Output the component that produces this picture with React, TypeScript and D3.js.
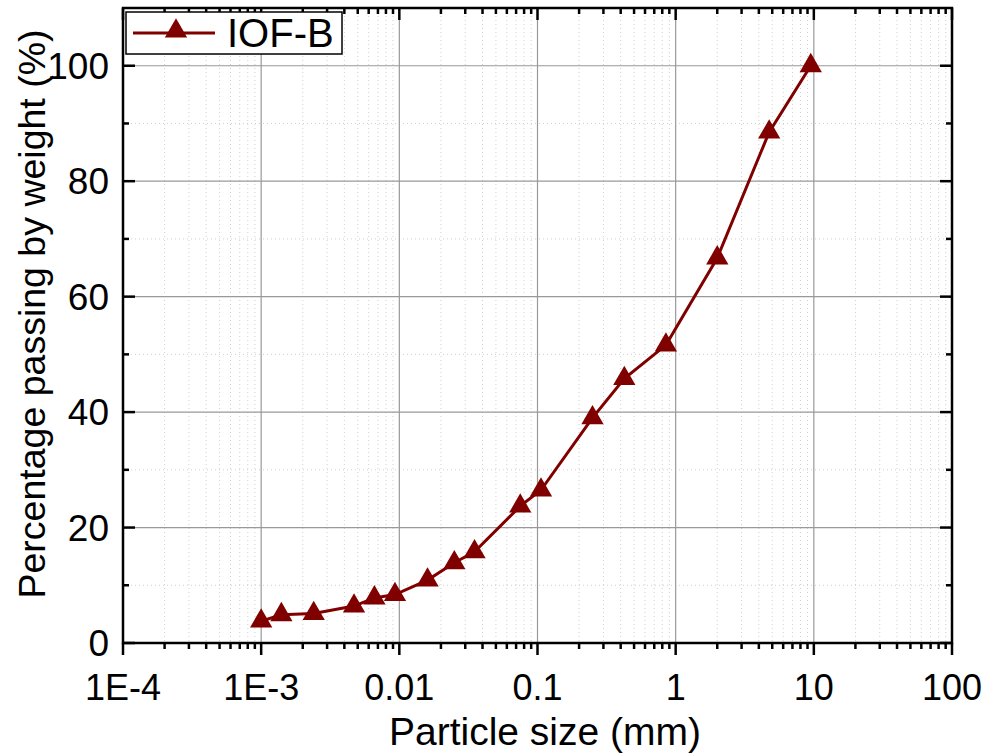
import React, { useEffect, useRef } from 'react';
import * as d3 from 'd3';

const sizes = [0.001, 0.0014, 0.0024, 0.0047, 0.0066, 0.0093, 0.016, 0.025, 0.035, 0.075, 0.106, 0.25, 0.425, 0.85, 2.0, 4.75, 9.5];
const passing = [3.8, 4.9, 5.1, 6.4, 7.8, 8.4, 10.9, 13.9, 15.8, 23.7, 26.5, 39.0, 45.8, 51.6, 66.7, 88.5, 100];
const xTicks = [1e-4, 1e-3, 0.01, 0.1, 1, 10, 100];
const xTickLabels = ['1E-4', '1E-3', '0.01', '0.1', '1', '10', '100'];
const yTicks = [0, 20, 40, 60, 80, 100];
const yMinor = [10, 30, 50, 70, 90];
const seriesName = 'IOF-B';

const W = 990;
const H = 754;
const left = 123, right = 952, top = 8, bottom = 643;
const red = '#800000';
const font = '"Liberation Sans", Arial, sans-serif';

export default function App() {
  const ref = useRef<SVGSVGElement>(null);

  useEffect(() => {
    const svg = d3.select(ref.current);
    svg.selectAll('*').remove();

    const x = d3.scaleLog().domain([1e-4, 100]).range([left, right]);
    const y = d3.scaleLinear().domain([0, 110]).range([bottom, top]);

    const xMinor: number[] = [];
    xTicks.slice(0, -1).forEach(d => {
      for (let k = 2; k <= 9; k++) xMinor.push(d * k);
    });

    svg.append('rect').attr('width', W).attr('height', H).attr('fill', '#fff');

    // minor grid
    const grid = svg.append('g');
    grid.selectAll('.gx').data(xMinor).enter().append('line')
      .attr('x1', d => x(d)).attr('x2', d => x(d))
      .attr('y1', top).attr('y2', bottom)
      .attr('stroke', '#cfcfcf').attr('stroke-width', 1).attr('stroke-dasharray', '1,3');
    grid.selectAll('.gy').data(yMinor).enter().append('line')
      .attr('x1', left).attr('x2', right)
      .attr('y1', d => y(d)).attr('y2', d => y(d))
      .attr('stroke', '#cfcfcf').attr('stroke-width', 1).attr('stroke-dasharray', '1,3');
    // major grid
    grid.selectAll('.mx').data(xTicks.slice(1, -1)).enter().append('line')
      .attr('x1', d => x(d)).attr('x2', d => x(d))
      .attr('y1', top).attr('y2', bottom)
      .attr('stroke', '#999').attr('stroke-width', 1.2);
    grid.selectAll('.my').data(yTicks.slice(1)).enter().append('line')
      .attr('x1', left).attr('x2', right)
      .attr('y1', d => y(d)).attr('y2', d => y(d))
      .attr('stroke', '#999').attr('stroke-width', 1.2);

    // ticks
    const ticks = svg.append('g').attr('stroke', '#000').attr('stroke-width', 2.5);
    // bottom (outward)
    ticks.selectAll('.bt').data(xTicks).enter().append('line')
      .attr('x1', d => x(d)).attr('x2', d => x(d)).attr('y1', bottom).attr('y2', bottom + 12);
    ticks.selectAll('.bm').data(xMinor).enter().append('line')
      .attr('x1', d => x(d)).attr('x2', d => x(d)).attr('y1', bottom).attr('y2', bottom + 6);
    // top (inward)
    ticks.selectAll('.tt').data(xTicks).enter().append('line')
      .attr('x1', d => x(d)).attr('x2', d => x(d)).attr('y1', top).attr('y2', top + 12);
    ticks.selectAll('.tm').data(xMinor).enter().append('line')
      .attr('x1', d => x(d)).attr('x2', d => x(d)).attr('y1', top).attr('y2', top + 6);
    // left and right (inward)
    ticks.selectAll('.lt').data(yTicks).enter().append('line')
      .attr('x1', left).attr('x2', left + 12).attr('y1', d => y(d)).attr('y2', d => y(d));
    ticks.selectAll('.lm').data(yMinor).enter().append('line')
      .attr('x1', left).attr('x2', left + 6).attr('y1', d => y(d)).attr('y2', d => y(d));
    ticks.selectAll('.rt').data(yTicks).enter().append('line')
      .attr('x1', right).attr('x2', right - 12).attr('y1', d => y(d)).attr('y2', d => y(d));
    ticks.selectAll('.rm').data(yMinor).enter().append('line')
      .attr('x1', right).attr('x2', right - 6).attr('y1', d => y(d)).attr('y2', d => y(d));

    // frame
    svg.append('rect')
      .attr('x', left).attr('y', top).attr('width', right - left).attr('height', bottom - top)
      .attr('fill', 'none').attr('stroke', '#000').attr('stroke-width', 2.5);

    // tick labels
    svg.append('g').selectAll('text').data(xTicks).enter().append('text')
      .attr('x', d => x(d)).attr('y', 700)
      .attr('text-anchor', 'middle')
      .attr('font-family', font).attr('font-size', 36)
      .text((d, i) => xTickLabels[i]);
    svg.append('g').selectAll('text').data(yTicks).enter().append('text')
      .attr('x', 109).attr('y', d => y(d) + 13)
      .attr('text-anchor', 'end')
      .attr('font-family', font).attr('font-size', 37)
      .text(d => d);

    // axis titles
    svg.append('text')
      .attr('x', 545).attr('y', 745)
      .attr('text-anchor', 'middle')
      .attr('font-family', font).attr('font-size', 39)
      .text('Particle size (mm)');
    svg.append('text')
      .attr('transform', 'translate(45,314) rotate(-90)')
      .attr('text-anchor', 'middle')
      .attr('font-family', font).attr('font-size', 37.5)
      .text('Percentage passing by weight (%)');

    // series
    const pts = sizes.map((s, i) => [s, passing[i]] as [number, number]);
    const line = d3.line<[number, number]>().x(d => x(d[0])).y(d => y(d[1]));
    svg.append('path').datum(pts)
      .attr('d', line)
      .attr('fill', 'none').attr('stroke', red).attr('stroke-width', 3);
    const tri = d3.symbol().type(d3.symbolTriangle).size(215);
    svg.append('g').selectAll('path').data(pts).enter().append('path')
      .attr('transform', d => `translate(${x(d[0])},${y(d[1])})`)
      .attr('d', tri)
      .attr('fill', red);

    // legend
    const lg = svg.append('g');
    lg.append('rect')
      .attr('x', 126).attr('y', 12).attr('width', 216).attr('height', 42)
      .attr('fill', '#fff').attr('stroke', '#000').attr('stroke-width', 1.5);
    lg.append('line')
      .attr('x1', 133).attr('x2', 215).attr('y1', 33).attr('y2', 33)
      .attr('stroke', red).attr('stroke-width', 3);
    lg.append('path')
      .attr('transform', 'translate(176,31)')
      .attr('d', tri)
      .attr('fill', red);
    lg.append('text')
      .attr('x', 227).attr('y', 47)
      .attr('font-family', font).attr('font-size', 40)
      .text(seriesName);
  }, []);

  return (
    <div style={{ position: 'absolute', left: 0, top: 0 }}>
      <svg ref={ref} width={W} height={H}></svg>
    </div>
  );
}
